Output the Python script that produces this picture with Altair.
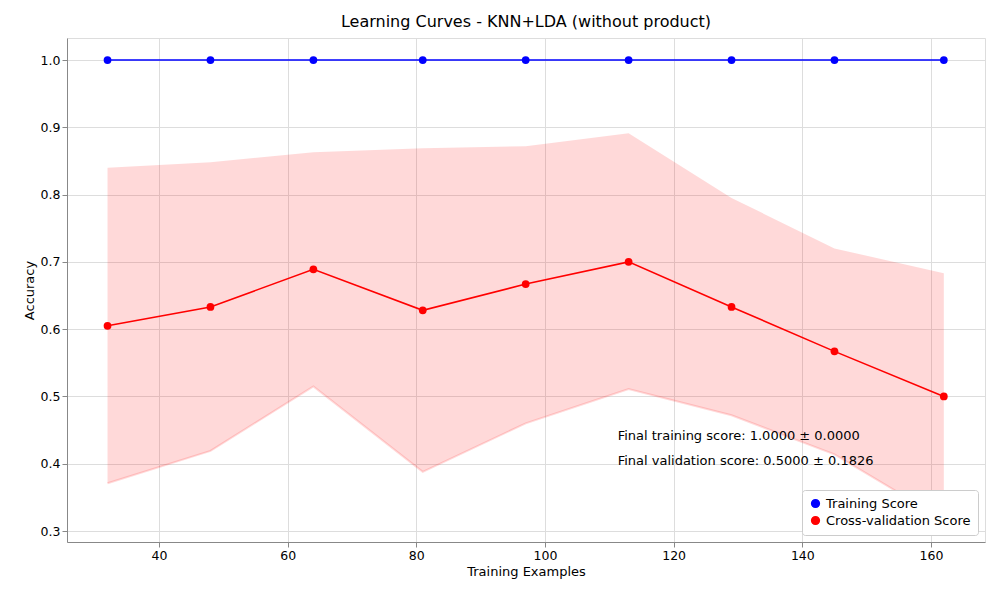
import altair as alt
import pandas as pd

sizes = [32, 48, 64, 81, 97, 113, 129, 145, 162]
train_mean = [1.0] * 9
cv_mean = [0.605, 0.633, 0.689, 0.628, 0.667, 0.700, 0.633, 0.567, 0.500]
cv_upper = [0.840, 0.848, 0.863, 0.869, 0.872, 0.891, 0.795, 0.720, 0.683]
cv_lower = [0.371, 0.419, 0.515, 0.388, 0.460, 0.511, 0.472, 0.414, 0.317]
series = ["Training Score", "Cross-validation Score"]
notes = ["Final training score: 1.0000 ± 0.0000", "Final validation score: 0.5000 ± 0.1826"]
note_y = [0.441, 0.404]

rows = []
for s, m in zip(sizes, train_mean):
    rows.append({"x": s, "y": m, "series": series[0]})
for s, m in zip(sizes, cv_mean):
    rows.append({"x": s, "y": m, "series": series[1]})
df = pd.DataFrame(rows)
band = pd.DataFrame({"x": sizes, "lo": cv_lower, "hi": cv_upper})
ndf = pd.DataFrame({"x": [111.3, 111.3], "y": note_y, "t": notes})

xs = alt.Scale(domain=[25.7, 168.4], nice=False, zero=False)
ys = alt.Scale(domain=[0.2837, 1.0327], nice=False, zero=False)
X = alt.X("x:Q", scale=xs, title="Training Examples",
          axis=alt.Axis(values=[40, 60, 80, 100, 120, 140, 160], format="d",
                        titleFontWeight="normal", titleFontSize=13, labelFontSize=12.5))
Y = alt.Y("y:Q", scale=ys, title="Accuracy",
          axis=alt.Axis(values=[0.3, 0.4, 0.5, 0.6, 0.7, 0.8, 0.9, 1.0], format=".1f",
                        titleFontWeight="normal", titleFontSize=13, labelFontSize=12.5))
color = alt.Color("series:N", scale=alt.Scale(domain=series, range=["#0000ff", "#ff0000"]),
                  legend=alt.Legend(title=None, orient="bottom-right", offset=7,
                                    strokeColor="#cccccc", fillColor="white", padding=7,
                                    symbolType="circle", symbolSize=60, labelFontSize=13,
                                    cornerRadius=3))

area = alt.Chart(band).mark_area(color="#ff0000", opacity=0.15, line={"color": "#ff0000", "opacity": 0.15}).encode(
    x=alt.X("x:Q", scale=xs), y=alt.Y("lo:Q", scale=ys), y2="hi:Q")
lines = alt.Chart(df).mark_line(strokeWidth=1.6).encode(x=X, y=Y, color=color)
pts = alt.Chart(df).mark_point(filled=True, size=60, opacity=1).encode(x=X, y=Y, color=color)
txt = alt.Chart(ndf).mark_text(align="left", fontSize=13, color="black").encode(
    x=alt.X("x:Q", scale=xs), y=alt.Y("y:Q", scale=ys), text="t:N")

chart = alt.layer(area, lines, pts, txt).properties(
    width=918, height=504,
    title=alt.TitleParams("Learning Curves - KNN+LDA (without product)", fontSize=16, fontWeight="normal", offset=8),
    autosize=alt.AutoSizeParams(type="none"),
    padding={"left": 59, "top": 30, "right": 7, "bottom": 50},
).configure_axis(
    grid=True, gridColor="#a8a8a8", domainColor="black", tickColor="black",
    labelColor="black", titleColor="black"
).configure_view(stroke="black").configure(font="DejaVu Sans")

chart.save("out.html", embed_options={"renderer": "svg", "actions": False})
